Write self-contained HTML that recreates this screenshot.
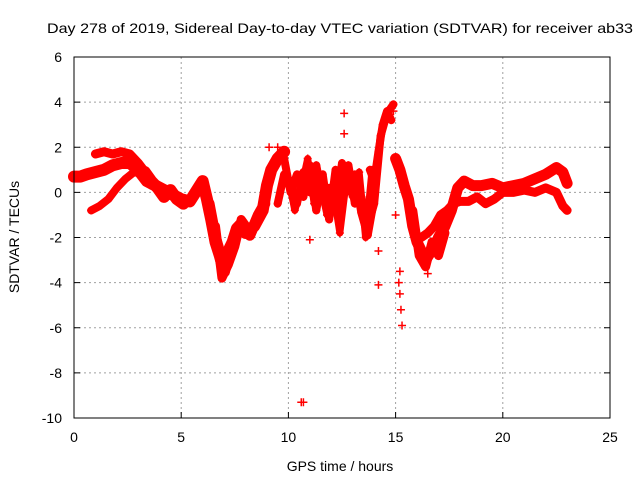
<!DOCTYPE html>
<html><head><meta charset="utf-8"><style>
body{margin:0;background:#fff}
svg text{font-family:"Liberation Sans",sans-serif;font-size:14px;fill:#000}
</style></head><body>
<svg id="c" width="640" height="480">
<rect width="640" height="480" fill="#fff"/>
</svg>
<script>
const xTicks=[0,5,10,15,20,25];
const yTicks=[-10,-8,-6,-4,-2,0,2,4,6];
const hoursA=[0,0.3,0.6,1.0,1.4,1.8,2.2,2.6,3.0,3.4,3.8,4.2,4.6,5.0,5.4,5.8,6.0,6.2,6.4,6.6,6.8,7.0,7.2,7.4,7.6,7.8,8.0,8.4,8.8,9.0,9.2,9.5,9.8];
const valsA=[0.7,0.7,0.8,0.9,1.0,1.2,1.3,1.3,1.0,0.5,0.3,0.1,-0.1,-0.3,-0.4,0.2,0.5,-0.3,-1.2,-2.2,-2.8,-3.5,-2.6,-2.2,-1.6,-1.4,-1.8,-1.5,-0.8,0.3,1.0,1.5,1.8];
const hoursB=[1.0,1.4,1.8,2.2,2.6,3.0,3.4,3.8];
const valsB=[1.7,1.8,1.7,1.8,1.7,1.3,0.8,0.3];
const hoursC=[0.8,1.2,1.6,2.0,2.4,2.8,3.2,3.6];
const valsC=[-0.8,-0.6,-0.3,0.2,0.6,0.9,0.8,0.3];
const hoursD=[6.3,6.6,6.9,7.2,7.5,7.8,8.2,8.6,8.9];
const valsD=[-0.5,-2.0,-3.0,-2.8,-2.0,-1.5,-1.9,-1.0,-0.5];
const hoursE=[9.8,10.1,10.4,10.7,11.0,11.3,11.6,11.9,12.2,12.5,12.8,13.1,13.4,13.7,14.0,14.3,14.6,14.9];
const valsE=[1.5,0.0,0.8,-0.2,1.2,-0.8,0.8,-1.2,1.0,-0.5,1.2,-0.5,-0.2,-1.5,-0.5,2.5,3.5,3.9];
const hoursF=[9.5,9.8,10.1,10.4,10.7,11.0,11.3,11.6,11.9,12.2,12.5,12.8,13.1,13.4,13.7,14.0];
const valsF=[-0.5,0.8,0.3,-0.5,0.9,0.0,1.2,-0.3,0.2,-0.8,1.3,0.5,0.8,-0.9,-1.9,-0.3];
const hoursG=[15.0,15.2,15.4,15.6,15.8,16.0,16.2,16.4,16.6,16.8,17.0,17.3,17.6,17.9,18.2,18.6,19.0,19.5,20.0,20.5,21.0,21.5,22.0,22.5,22.8,23.0];
const valsG=[1.5,1.0,0.3,-0.3,-1.5,-2.2,-2.6,-3.0,-2.7,-2.5,-2.0,-1.5,-0.8,0.2,0.5,0.3,0.3,0.4,0.2,0.3,0.4,0.6,0.8,1.1,0.9,0.4];
const hoursH=[16.2,16.5,16.8,17.1,17.4,17.7,18.0,18.4,18.8,19.2,19.6,20.0,20.5,21.0,21.5,22.0,22.5,22.8,23.0];
const valsH=[-2.0,-1.8,-1.5,-1.0,-0.8,-0.5,-0.4,-0.4,-0.2,-0.5,-0.3,0.0,0.0,0.1,0.0,0.2,0.0,-0.6,-0.8];
const hoursI=[3.3,3.6,3.9,4.2,4.5,4.8,5.1];
const valsI=[0.9,0.5,0.2,-0.2,0.1,-0.3,-0.5];
const hoursJ=[10.0,10.3,10.6,10.9,11.2,11.5,11.8,12.1,12.4,12.7,13.0,13.3,13.6,13.9];
const valsJ=[0.6,-0.8,0.2,1.5,-0.5,0.3,-1.0,0.0,-1.8,0.5,-0.2,0.9,-2.0,1.0];
const hoursK=[6.6,6.9,7.2,7.5,7.8,8.1];
const valsK=[-1.5,-3.8,-3.2,-2.4,-1.2,-1.6];
const hoursM=[15.8,16.1,16.4,16.7,17.0,17.3];
const valsM=[-0.8,-2.8,-3.3,-2.2,-2.8,-1.8];
const hoursN=[13.8,14.0,14.2,14.4,14.6,14.8];
const valsN=[1.0,0.5,1.8,3.0,3.6,3.2];
const outHours=[15.2,15.2,15.25,15.3,15.15,14.2,14.2,12.6,12.6,9.1,10.6,10.7,11.0,9.5,16.5,14.9,15.0];
const outVals=[-3.5,-4.5,-5.2,-5.9,-4.0,-2.6,-4.1,3.5,2.6,2.0,-9.3,-9.3,-2.1,2.0,-3.6,3.6,-1.0];

const L=74,R=610,T=57,B=418;
const xs=h=>L+(h-0)/25*(R-L);
const ys=v=>T+(6-v)/16*(B-T);
const svg=document.getElementById('c');
const NS='http://www.w3.org/2000/svg';
function mk(tag,attrs,parent){const e=document.createElementNS(NS,tag);for(const k in attrs)e.setAttribute(k,attrs[k]);(parent||svg).appendChild(e);return e;}

const grid=mk('g',{});


xTicks.forEach(t=>{
  if(t>0&&t<25){mk('line',{x1:xs(t),x2:xs(t),y1:T,y2:B,stroke:'#a0a0a0','stroke-dasharray':'2,3'},grid);}
  mk('line',{x1:xs(t),x2:xs(t),y1:B,y2:B-6,stroke:'#000'});
  const lb=mk('text',{x:xs(t),y:442,'text-anchor':'middle'});lb.textContent=t;
  
  
});
yTicks.forEach(t=>{
  if(t>-10&&t<6){mk('line',{x1:L,x2:R,y1:ys(t),y2:ys(t),stroke:'#a0a0a0','stroke-dasharray':'2,3'},grid);}
  mk('line',{x1:L,x2:L+6,y1:ys(t),y2:ys(t),stroke:'#000'});
  mk('line',{x1:R,x2:R-6,y1:ys(t),y2:ys(t),stroke:'#000'});
  const lb=mk('text',{x:62,y:ys(t)+5,'text-anchor':'end'});lb.textContent=t;
  
  
});

const data=mk('g',{});


function plus(h,v){const x=xs(h),y=ys(v);mk('path',{d:`M${x-4} ${y}H${x+4}M${x} ${y-4}V${y+4}`,stroke:'#f00','stroke-width':1.5},data);}
function trace(hs,vs,w){
  const pts=hs.map((h,i)=>xs(h)+','+ys(vs[i])).join(' ');
  const p=mk('polyline',{points:pts,fill:'none',stroke:'#f00','stroke-width':w,'stroke-linejoin':'round','stroke-linecap':'round'},data);
  
  hs.forEach((h,i)=>plus(h,vs[i]));
}
trace(hoursA,valsA,12);
trace(hoursB,valsB,9);
trace(hoursC,valsC,8);
trace(hoursD,valsD,11);
trace(hoursE,valsE,8);
trace(hoursF,valsF,8);
trace(hoursG,valsG,11);
trace(hoursH,valsH,9);
trace(hoursI,valsI,12);
trace(hoursJ,valsJ,7);
trace(hoursK,valsK,9);
trace(hoursM,valsM,9);
trace(hoursN,valsN,8);
outHours.forEach((h,i)=>plus(h,outVals[i]));

const fr=mk('rect',{x:L,y:T,width:R-L,height:B-T,fill:'none',stroke:'#000'});


const title=mk('text',{x:340,y:33,'text-anchor':'middle',textLength:586,lengthAdjust:'spacingAndGlyphs'});
title.textContent='Day 278 of 2019, Sidereal Day-to-day VTEC variation (SDTVAR) for receiver ab33';


const xl=mk('text',{x:340,y:471,'text-anchor':'middle'});
xl.textContent='GPS time / hours';


const yl=mk('text',{x:0,y:0,'text-anchor':'middle',transform:'translate(19,237) rotate(-90)'});
yl.textContent='SDTVAR / TECUs';


</script>
</body></html>
